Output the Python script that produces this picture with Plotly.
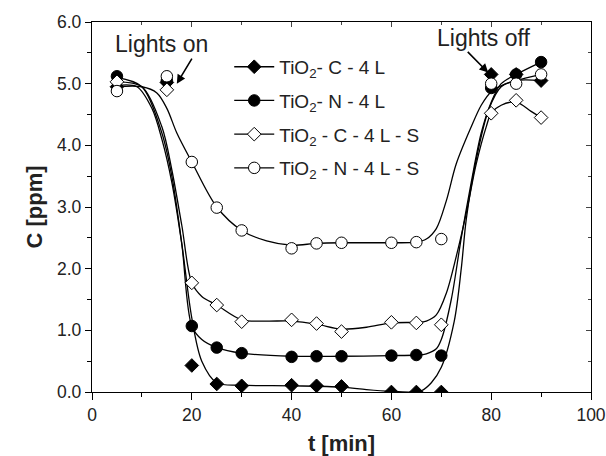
import plotly.graph_objects as go

# measured points
t = [5, 15, 20, 25, 30, 40, 45, 50, 60, 65, 70, 80, 85, 90]
c_C4L = [4.95, 5.02, 0.43, 0.13, 0.10, 0.11, 0.10, 0.09, 0.00, 0.00, 0.00, 5.15, 5.15, 5.05]
c_N4L = [5.12, 5.05, 1.07, 0.72, 0.63, 0.57, 0.58, 0.58, 0.59, 0.60, 0.59, 4.93, 5.15, 5.35]
c_C4LS = [5.03, 4.90, 1.77, 1.41, 1.14, 1.17, 1.11, 0.98, 1.13, 1.12, 1.09, 4.52, 4.73, 4.45]
c_N4LS = [4.88, 5.12, 3.73, 2.99, 2.62, 2.33, 2.41, 2.42, 2.42, 2.43, 2.48, 5.00, 5.00, 5.15]

# fitted curves (knots)
fit_t_C4L = [5, 9, 12, 14, 16, 18, 20, 22, 25, 30, 40, 50, 55, 60, 64, 66, 68, 70, 72.6, 74, 75, 77, 79.5, 82, 85, 90]
fit_C4L = [4.97, 4.95, 4.6, 4.1, 3.4, 2.4, 1.2, 0.5, 0.15, 0.11, 0.10, 0.08, 0.04, 0.01, 0.0, 0.02, 0.15, 0.4, 1.15, 2.0, 2.8, 3.77, 4.58, 4.95, 5.05, 5.05]
fit_t_N4L = [5, 10, 14, 16, 18, 20, 22, 25, 30, 40, 50, 60, 65, 67, 69, 70, 72, 74, 76, 78, 80, 82, 85, 90]
fit_N4L = [5.10, 4.95, 4.2, 3.5, 2.4, 1.07, 0.85, 0.72, 0.63, 0.58, 0.58, 0.59, 0.60, 0.62, 0.7, 0.85, 1.5, 2.5, 3.4, 4.2, 4.7, 5.0, 5.15, 5.35]
fit_t_C4LS = [5, 10, 14, 16, 18, 20, 22, 25, 30, 35, 40, 45, 50, 55, 60, 65, 67, 69, 71, 73, 75, 77, 79, 80, 82, 85, 88, 90]
fit_C4LS = [5.03, 4.95, 4.3, 3.6, 2.7, 1.77, 1.55, 1.41, 1.17, 1.15, 1.15, 1.10, 1.02, 1.05, 1.12, 1.13, 1.15, 1.25, 1.6, 2.2, 2.9, 3.7, 4.3, 4.52, 4.65, 4.7, 4.55, 4.45]
fit_t_N4LS = [5, 10, 13, 15, 17, 20, 25, 30, 35, 40, 45, 50, 60, 65, 67, 69, 71, 73, 76, 78, 80, 83, 85, 90]
fit_N4LS = [4.95, 4.95, 4.85, 4.6, 4.2, 3.73, 3.0, 2.62, 2.45, 2.38, 2.41, 2.42, 2.42, 2.43, 2.48, 2.65, 3.1, 3.7, 4.3, 4.65, 4.87, 5.0, 5.05, 5.15]

names = ["TiO<sub>2</sub>- C - 4 L", "TiO<sub>2</sub>- N - 4 L",
         "TiO<sub>2</sub> - C - 4 L - S", "TiO<sub>2</sub> - N - 4 L - S"]

series = [
    (c_C4L, fit_t_C4L, fit_C4L, "diamond", "black", 10.5),
    (c_N4L, fit_t_N4L, fit_N4L, "circle", "black", 11.5),
    (c_C4LS, fit_t_C4LS, fit_C4LS, "diamond", "white", 10.5),
    (c_N4LS, fit_t_N4LS, fit_N4LS, "circle", "white", 11.5),
]

fig = go.Figure()
# fitted curves
for yv, ft, fy, sym, fill, sz in series:
    fig.add_trace(go.Scatter(
        x=ft, y=fy, mode="lines",
        line=dict(color="black", width=1.3, shape="spline", smoothing=0.9),
        showlegend=False, hoverinfo="skip"))
# data markers
for i, (yv, ft, fy, sym, fill, sz) in enumerate(series):
    fig.add_trace(go.Scatter(
        x=t, y=yv, mode="markers", showlegend=False,
        marker=dict(symbol=sym, size=sz, color=fill, line=dict(color="black", width=1))))
# legend entries (line + symbol)
for i, (yv, ft, fy, sym, fill, sz) in enumerate(series):
    fig.add_trace(go.Scatter(
        x=[None], y=[None], mode="lines+markers", name=names[i], legendgroup=f"g{i}",
        line=dict(color="black", width=1.3),
        marker=dict(symbol=sym, size=sz, color=fill, line=dict(color="black", width=1))))
# mirrored axes (top/right) with inward ticks
fig.add_trace(go.Scatter(x=[None], y=[None], xaxis="x2", yaxis="y2", showlegend=False,
                         hoverinfo="skip"))

font_family = "Liberation Sans, Arial, sans-serif"
txt = "#222"
fig.update_layout(
    width=606, height=456,
    margin=dict(l=92, r=15, t=22, b=64, autoexpand=False),
    paper_bgcolor="white", plot_bgcolor="white",
    font=dict(family=font_family, size=17.5, color=txt),
    legend=dict(x=0.275, y=0.93, xanchor="left", yanchor="top",
                bgcolor="rgba(0,0,0,0)", font=dict(size=19, color=txt),
                tracegroupgap=6, itemwidth=40),
    annotations=[
        dict(x=17.0, y=5.0, ax=20.2, ay=5.43, axref="x", ayref="y", xref="x", yref="y",
             showarrow=True, arrowhead=2, arrowsize=1.1, arrowwidth=1.6, arrowcolor="black", text=""),
        dict(x=13.9, y=5.64, xref="x", yref="y", text="Lights on", showarrow=False,
             font=dict(size=23, color=txt)),
        dict(x=79.4, y=5.18, ax=75.0, ay=5.54, axref="x", ayref="y", xref="x", yref="y",
             showarrow=True, arrowhead=2, arrowsize=1.1, arrowwidth=1.6, arrowcolor="black", text=""),
        dict(x=78.6, y=5.74, xref="x", yref="y", text="Lights off", showarrow=False,
             font=dict(size=23, color=txt)),
    ],
    xaxis2=dict(overlaying="x", side="top", range=[0, 100], dtick=20, ticks="inside", ticklen=5,
                showticklabels=False, showgrid=False, zeroline=False, showline=False,
                minor=dict(dtick=10, ticks="inside", ticklen=3), automargin=False),
    yaxis2=dict(overlaying="y", side="right", range=[0, 6], dtick=1, ticks="inside", ticklen=5,
                showticklabels=False, showgrid=False, zeroline=False, showline=False,
                minor=dict(dtick=0.5, ticks="inside", ticklen=3), automargin=False),
)
fig.layout.xaxis.update(range=[0, 100], dtick=20, tick0=0, ticks="outside", ticklen=7,
                        tickcolor="black", showline=True, linecolor="black", linewidth=1.3,
                        mirror=True, showgrid=False, zeroline=False, automargin=False,
                        minor=dict(dtick=10, ticks="outside", ticklen=4, tickcolor="black"),
                        title=dict(text="<b>t [min]</b>", font=dict(size=22, color=txt), standoff=14))
fig.layout.yaxis.update(range=[0, 6], dtick=1, tick0=0, tickformat=".1f", ticks="outside", ticklen=6,
                        tickcolor="black", showline=True, linecolor="black", linewidth=1.3,
                        mirror=True, showgrid=False, zeroline=False, automargin=False,
                        minor=dict(dtick=0.5, ticks="outside", ticklen=4, tickcolor="black"),
                        title=dict(text="<b>C [ppm]</b>", font=dict(size=22, color=txt), standoff=8))

fig.write_html("out.html")
